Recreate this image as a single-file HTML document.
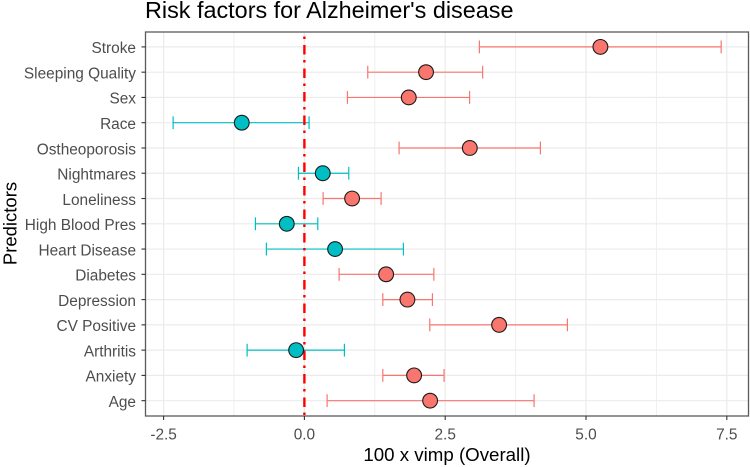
<!DOCTYPE html>
<html>
<head>
<meta charset="utf-8">
<style>
html,body{margin:0;padding:0;background:#fff;width:750px;height:467px;overflow:hidden}
svg{display:block;font-family:"Liberation Sans",Arial,sans-serif}
</style>
</head>
<body>
<svg id="chart" width="750" height="467" viewBox="0 0 750 467" xmlns="http://www.w3.org/2000/svg"></svg>
<script>
const predictors = ["Stroke","Sleeping Quality","Sex","Race","Ostheoporosis","Nightmares","Loneliness","High Blood Pres","Heart Disease","Diabetes","Depression","CV Positive","Arthritis","Anxiety","Age"];
const estimates = [5.256,2.16,1.853,-1.112,2.937,0.326,0.847,-0.313,0.545,1.451,1.829,3.457,-0.147,1.948,2.232];
const lowerBounds = [3.107,1.125,0.764,-2.331,1.681,-0.106,0.332,-0.87,-0.675,0.616,1.392,2.226,-1.017,1.392,0.403];
const upperBounds = [7.40,3.165,2.933,0.083,4.19,0.788,1.362,0.238,1.758,2.298,2.273,4.67,0.71,2.48,4.078];
const xTicks = [-2.5,0,2.5,5,7.5];
const xTickLabels = ["-2.5","0.0","2.5","5.0","7.5"];
const xMinorTicks = [-1.25,1.25,3.75,6.25];
const referenceValue = 0;

const svg = document.getElementById('chart');
const NS = 'http://www.w3.org/2000/svg';
const panel = {left:145.5,right:748.5,top:32,bottom:416};
const xScale = v => 304.4 + v * 56.32;
const yScale = i => 46.9 + i * 25.27;

function make(tag, attrs, parent, text){
  const el = document.createElementNS(NS, tag);
  for (const k in attrs) el.setAttribute(k, attrs[k]);
  if (text !== undefined) el.textContent = text;
  (parent || svg).appendChild(el);
  return el;
}

const title = make('text',{x:145,y:18,'font-size':23.4,fill:'#000'},svg,"Risk factors for Alzheimer's disease");



const grid = make('g',{});


xMinorTicks.forEach(v => {
  const l = make('line',{x1:xScale(v),x2:xScale(v),y1:panel.top,y2:panel.bottom,stroke:'#efefef','stroke-width':1},grid);
  
  
});
xTicks.forEach(v => {
  const l = make('line',{x1:xScale(v),x2:xScale(v),y1:panel.top,y2:panel.bottom,stroke:'#ebebeb','stroke-width':1.2},grid);
  
  
});
predictors.forEach((p,i) => {
  const l = make('line',{x1:panel.left,x2:panel.right,y1:yScale(i),y2:yScale(i),stroke:'#ebebeb','stroke-width':1.2},grid);
  
  
});

const bars = make('g',{});


predictors.forEach((p,i) => {
  const c = lowerBounds[i] <= 0 ? '#00BFC4' : '#F8766D';
  const y = yScale(i);
  const g = make('g',{stroke:c,'stroke-width':1.2,fill:'none'},bars);
  
  
  make('line',{x1:xScale(lowerBounds[i]),x2:xScale(upperBounds[i]),y1:y,y2:y},g);
  make('line',{x1:xScale(lowerBounds[i]),x2:xScale(lowerBounds[i]),y1:y-6.4,y2:y+6.4},g);
  make('line',{x1:xScale(upperBounds[i]),x2:xScale(upperBounds[i]),y1:y-6.4,y2:y+6.4},g);
});

const refLine = make('line',{x1:xScale(referenceValue),x2:xScale(referenceValue),y1:panel.top,y2:panel.bottom,stroke:'#ff0000','stroke-width':2.4,'stroke-dasharray':'2.5 6 9.5 5.5','stroke-dashoffset':19});



const points = make('g',{});


predictors.forEach((p,i) => {
  const c = lowerBounds[i] <= 0 ? '#00BFC4' : '#F8766D';
  const pt = make('circle',{cx:xScale(estimates[i]),cy:yScale(i),r:7.4,fill:c,stroke:'#1a1a1a','stroke-width':1.1},points);
  
  
});

const border = make('rect',{x:panel.left,y:panel.top,width:panel.right-panel.left,height:panel.bottom-panel.top,fill:'none',stroke:'#5a5a5a','stroke-width':1.3});



const yAxis = make('g',{});


predictors.forEach((p,i) => {
  make('line',{x1:141.5,x2:panel.left,y1:yScale(i),y2:yScale(i),stroke:'#333','stroke-width':1.1},yAxis);
  const t = make('text',{x:136,y:yScale(i)+6.3,'text-anchor':'end','font-size':15.4,fill:'#4d4d4d'},yAxis,p);
  
  
});

const xAxis = make('g',{});


xTicks.forEach((v,i) => {
  make('line',{x1:xScale(v),x2:xScale(v),y1:panel.bottom,y2:panel.bottom+4,stroke:'#333','stroke-width':1.1},xAxis);
  const t = make('text',{x:xScale(v),y:439.5,'text-anchor':'middle','font-size':15.4,fill:'#4d4d4d'},xAxis,xTickLabels[i]);
  
  
});

const xTitle = make('text',{x:447,y:461,'text-anchor':'middle','font-size':18.7,fill:'#000'},svg,'100 x vimp (Overall)');



const yTitle = make('text',{x:0,y:0,transform:'translate(16.7,223.5) rotate(-90)','text-anchor':'middle','font-size':18.5,fill:'#000'},svg,'Predictors');


</script>
</body>
</html>
